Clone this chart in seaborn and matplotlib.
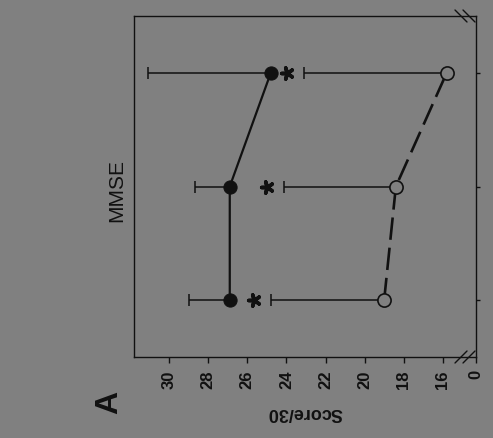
import numpy as np
import pandas as pd
import matplotlib
matplotlib.use("Agg")
import matplotlib.pyplot as plt
import seaborn as sns

# ---- data ----
visits = [1, 2, 3]
filled_mean = [26.9, 26.9, 24.8]
filled_upper = [29.0, 28.7, 31.1]
open_mean = [19.0, 18.4, 15.8]
open_upper = [24.8, 24.15, 23.1]
score_ticks = [30, 28, 26, 24, 22, 20, 18, 16]
score_tick_labels = ["30", "28", "26", "24", "22", "20", "18", "16"]
break_tick_label = "0"
title = "MMSE"
xlabel = "Score/30"
panel = "A"

GRAY = "#808080"
INK = "#111111"

sns.set_style("ticks")
plt.rcParams["font.family"] = ["Liberation Sans", "DejaVu Sans"]

fig = plt.figure(figsize=(4.93, 4.38), dpi=100, facecolor=GRAY)
ax = fig.add_axes([134 / 493, 1 - 357 / 438, 342 / 493, 341 / 438])
ax.set_facecolor(GRAY)

df_f = pd.DataFrame({"score": filled_mean, "visit": visits})
df_o = pd.DataFrame({"score": open_mean, "visit": visits})

# one-sided (upper) error bars
ax.errorbar(filled_mean, visits,
            xerr=[np.zeros(3), np.subtract(filled_upper, filled_mean)],
            fmt="none", ecolor=INK, elinewidth=1.1, capsize=4, capthick=1.1, zorder=1)
ax.errorbar(open_mean, visits,
            xerr=[np.zeros(3), np.subtract(open_upper, open_mean)],
            fmt="none", ecolor=INK, elinewidth=1.1, capsize=4, capthick=1.1, zorder=1)

sns.lineplot(data=df_f, x="score", y="visit", orient="y", sort=False, ax=ax,
             color=INK, lw=1.6, marker="o", markersize=9.5, mfc=INK, mec=INK,
             zorder=3, legend=False)
sns.lineplot(data=df_o, x="score", y="visit", orient="y", sort=False, ax=ax,
             color=INK, lw=1.9, ls=(0, (8.5, 3)), marker="o", markersize=9.5,
             mfc=GRAY, mec=INK, mew=1.2, zorder=3, legend=False)

# significance asterisks next to the open-circle error caps
ax.scatter(np.add(open_upper, 0.85), visits, marker=(5, 2, 90), s=70,
           color=INK, linewidths=2.6, zorder=4)

break_pos = 14.3
ax.set_xlim(31.8, break_pos)
ax.set_ylim(0.5, 3.5)
ax.set_xticks(score_ticks + [break_pos])
ax.set_xticklabels(score_tick_labels + [break_tick_label], rotation=90,
                   fontsize=12, fontweight="bold")
ax.set_yticks(visits)
ax.set_yticklabels([])
ax.yaxis.tick_right()
ax.tick_params(axis="x", length=4.5, width=1, color=INK, pad=5, labelcolor=INK)
ax.tick_params(axis="y", length=3, width=1, color=INK, right=True, left=False)
ax.set_xlabel(xlabel, rotation=180, fontsize=13, fontweight="bold", color=INK,
              labelpad=11)
ax.set_ylabel("")
for sp in ax.spines.values():
    sp.set_visible(True)
    sp.set_color(INK)
    sp.set_linewidth(1.0)

# axis-break marks
for dx in (0.0, 0.0234):
    ax.plot([0.9386 + dx, 0.9737 + dx], [1.0176, 0.9824], transform=ax.transAxes,
            color=INK, lw=1.0, clip_on=False)
    ax.plot([0.9386 + dx, 0.9737 + dx], [-0.0176, 0.0176], transform=ax.transAxes,
            color=INK, lw=1.0, clip_on=False)

fig.text(117 / 493, 1 - 190 / 438, title, rotation=90, ha="center", va="center",
         fontsize=15, color=INK)
fig.text(109 / 493, 1 - 402 / 438, panel, rotation=90, ha="center", va="center",
         fontsize=23, fontweight="bold", color=INK)

fig.savefig("out.png", dpi=100, facecolor=GRAY)
